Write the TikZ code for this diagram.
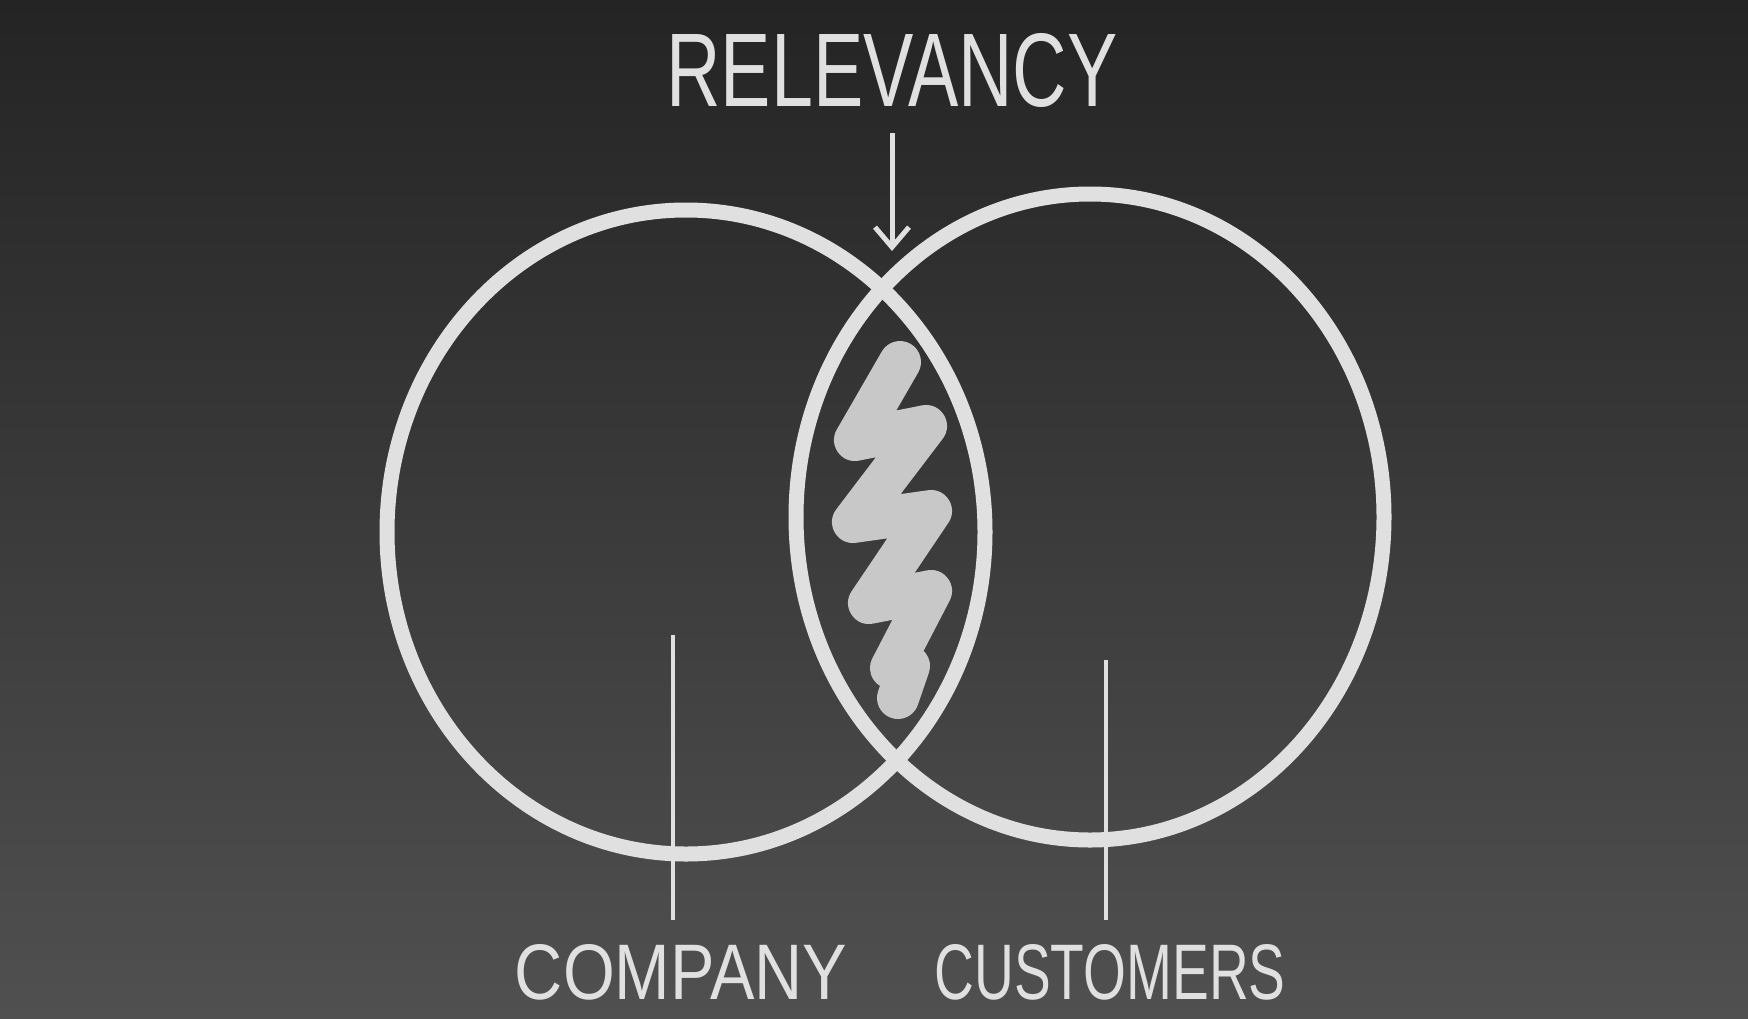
\documentclass[tikz,border=0pt]{standalone}
\usepackage{fontspec}
\setmainfont{Liberation Sans}
\usetikzlibrary{arrows.meta}
\definecolor{boardtop}{RGB}{36,36,36}
\definecolor{boardbottom}{RGB}{80,80,80}
\definecolor{chalk}{RGB}{224,224,224}
\definecolor{chalkfill}{RGB}{200,200,200}

\begin{document}
\begin{tikzpicture}[x=1pt,y=-1pt,ring/.style={draw=chalk,line width=15pt},scribble/.style={draw=chalkfill,line width=42pt,line join=round,line cap=round},pointer/.style={draw=chalk,line width=3.5pt},label/.style={text=chalk,inner sep=0pt}]
\useasboundingbox (0,0) rectangle (1748,1018);
\shade[top color=boardtop,bottom color=boardbottom] (0,0) rectangle (1748,1018);
\coordinate (L) at (686,532);
\coordinate (R) at (1090,517);
\coordinate (lensTop) at (892,251);
\coordinate (companyTop) at (673,635);
\coordinate (customersTop) at (1106,660);
\draw[ring] (L) ellipse [x radius=299pt,y radius=322pt];
\draw[ring] (R) ellipse [x radius=294pt,y radius=323pt];
\draw[scribble] (900,362) -- (855,440) -- (926,426) -- (853,522) -- (931,511) -- (869,603) -- (931,591) -- (891,668) -- (909,666) -- (898,698);
\node[label] (relevancy) at (892,70) {\resizebox{451pt}{73pt}{RELEVANCY}};
\node[label] (company) at (681,972) {\resizebox{332pt}{55pt}{COMPANY}};
\node[label] (customers) at (1110,972) {\resizebox{351pt}{55pt}{CUSTOMERS}};
\draw[pointer,line width=5pt,-{Straight Barb[length=20pt,width=34pt]},shorten <=26pt] (lensTop |- relevancy.south) -- (lensTop);
\draw[pointer,shorten >=24pt] (companyTop) -- (companyTop |- company.north);
\draw[pointer,shorten >=24pt] (customersTop) -- (customersTop |- customers.north);
\end{tikzpicture}
\end{document}
